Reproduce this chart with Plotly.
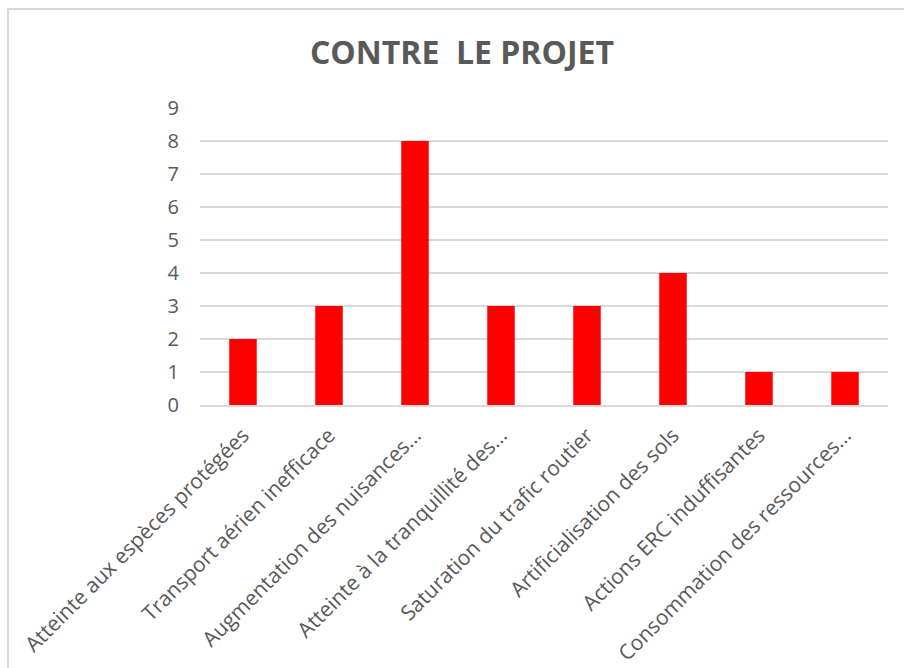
import plotly.graph_objects as go

categories = [
    "Atteinte aux espèces protégées",
    "Transport aérien inefficace",
    "Augmentation des nuisances…",
    "Atteinte à la tranquillité des…",
    "Saturation du trafic routier",
    "Artificialisation des sols",
    "Actions ERC induffisantes",
    "Consommation des ressources…",
]
values = [2, 3, 8, 3, 3, 4, 1, 1]
y_ticks = list(range(0, 10))

fig = go.Figure(go.Bar(
    x=categories, y=values,
    marker=dict(color="#FF0000", line=dict(width=0)),
))

fig.update_layout(
    width=904, height=668,
    paper_bgcolor="white", plot_bgcolor="white",
    margin=dict(l=200, r=16, t=108, b=263, autoexpand=False),
    title=dict(text="<b>CONTRE  LE PROJET</b>", x=0.511, xanchor="center", y=1 - 53/668, yanchor="middle",
               font=dict(family="Open Sans", size=32, color="#595959")),
    bargap=0.68,
    showlegend=False,
    font=dict(family="Open Sans", color="#595959"),
)
fig.update_xaxes(
    tickangle=-45, tickfont=dict(size=21, color="#595959"),
    showline=True, linecolor="#D9D9D9", linewidth=1.5,
    showgrid=False, ticks="", automargin=False, ticklabelstandoff=8,
)
fig.update_yaxes(
    range=[0, 9], tickvals=y_ticks, tickfont=dict(size=20, color="#595959"),
    showgrid=True, gridcolor="#D9D9D9", gridwidth=1.5,
    zeroline=False, showline=False, ticks="", ticklabelstandoff=20, automargin=False,
)
fig.add_shape(type="rect", xref="paper", yref="paper",
              x0=-192/688, x1=1 + 40/688, y0=-300/297, y1=1 + 99/297,
              line=dict(color="#D9D9D9", width=2), fillcolor="rgba(0,0,0,0)", layer="below")

fig.write_html("out.html", post_script="document.body.style.margin='0';",
               config={"displayModeBar": False})
